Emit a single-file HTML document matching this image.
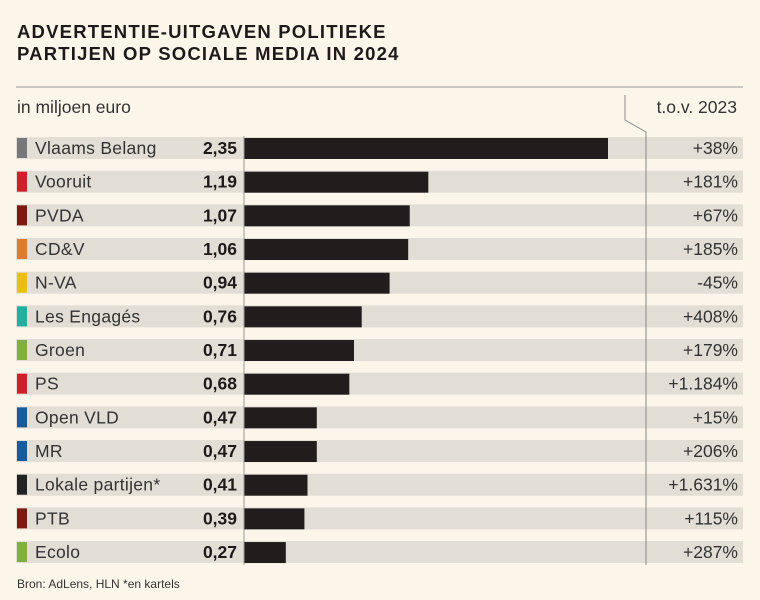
<!DOCTYPE html>
<html><head><meta charset="utf-8"><style>
body{margin:0;background:#fcf5ea;}
svg{display:block;font-family:"Liberation Sans",sans-serif;}
</style></head><body>
<svg width="760" height="600" viewBox="0 0 760 600">
<rect width="760" height="600" fill="#fcf5ea"/>
<text x="17" y="38" font-size="18.5" font-weight="bold" letter-spacing="1.2" fill="#1e1a1a">ADVERTENTIE-UITGAVEN POLITIEKE</text>
<text x="17" y="60" font-size="18.5" font-weight="bold" letter-spacing="1.2" fill="#1e1a1a">PARTIJEN OP SOCIALE MEDIA IN 2024</text>
<line x1="16" y1="87" x2="743" y2="87" stroke="#999" stroke-width="1"/>
<text x="17" y="113" font-size="17.5" fill="#333">in miljoen euro</text>
<text x="737" y="113" font-size="17.5" fill="#333" text-anchor="end">t.o.v. 2023</text>
<g id="rows"></g>
<line x1="244" y1="136" x2="244" y2="565" stroke="#999" stroke-width="1"/>
<path d="M625 95 L625 120 L646 132 L646 565" fill="none" stroke="#888" stroke-width="1"/>
<text x="17" y="588" font-size="12" fill="#333">Bron: AdLens, HLN *en kartels</text>
</svg>
<script>
const parties=["Vlaams Belang","Vooruit","PVDA","CD&V","N-VA","Les Engagés","Groen","PS","Open VLD","MR","Lokale partijen*","PTB","Ecolo"];
const values=[2.35,1.19,1.07,1.06,0.94,0.76,0.71,0.68,0.47,0.47,0.41,0.39,0.27];
const changes=["+38%","+181%","+67%","+185%","-45%","+408%","+179%","+1.184%","+15%","+206%","+1.631%","+115%","+287%"];
const colors=["#777","#d0202a","#7a1a10","#e07a30","#e8c010","#20b0a0","#80b040","#d0202a","#1a5a9a","#1a5a9a","#222","#7a1a10","#80b040"];
const NS="http://www.w3.org/2000/svg";
const g=document.getElementById("rows");
const x=v=>244+v*(364/2.35);
const y=i=>148+i*33.67;
function mk(t,a){const e=document.createElementNS(NS,t);for(const k in a)e.setAttribute(k,a[k]);return e;}
parties.forEach((p,i)=>{
 const cy=y(i);
 const s=mk("rect",{x:16,y:cy-11,width:727,height:22,fill:"#e2ded5"});
 
 
 g.appendChild(s);
 const sw=mk("rect",{x:17,y:cy-10,width:10,height:20,fill:colors[i]});
 
 
 g.appendChild(sw);
 const l=mk("text",{x:35,y:cy+6,"font-size":17.5,fill:"#333","letter-spacing":0.3});l.textContent=p;
 
 
 g.appendChild(l);
 const v=mk("text",{x:237,y:cy+6,"font-size":17.5,"font-weight":"bold",fill:"#1e1a1a","text-anchor":"end"});v.textContent=values[i].toFixed(2).replace(".",",");
 
 
 g.appendChild(v);
 const b=mk("rect",{x:244,y:cy-10,width:x(values[i])-244,height:21,fill:"#221c1c"});
 
 
 g.appendChild(b);
 const c=mk("text",{x:738,y:cy+6,"font-size":17.5,fill:"#333","text-anchor":"end"});c.textContent=changes[i];
 
 
 g.appendChild(c);
});
</script>
</body></html>
